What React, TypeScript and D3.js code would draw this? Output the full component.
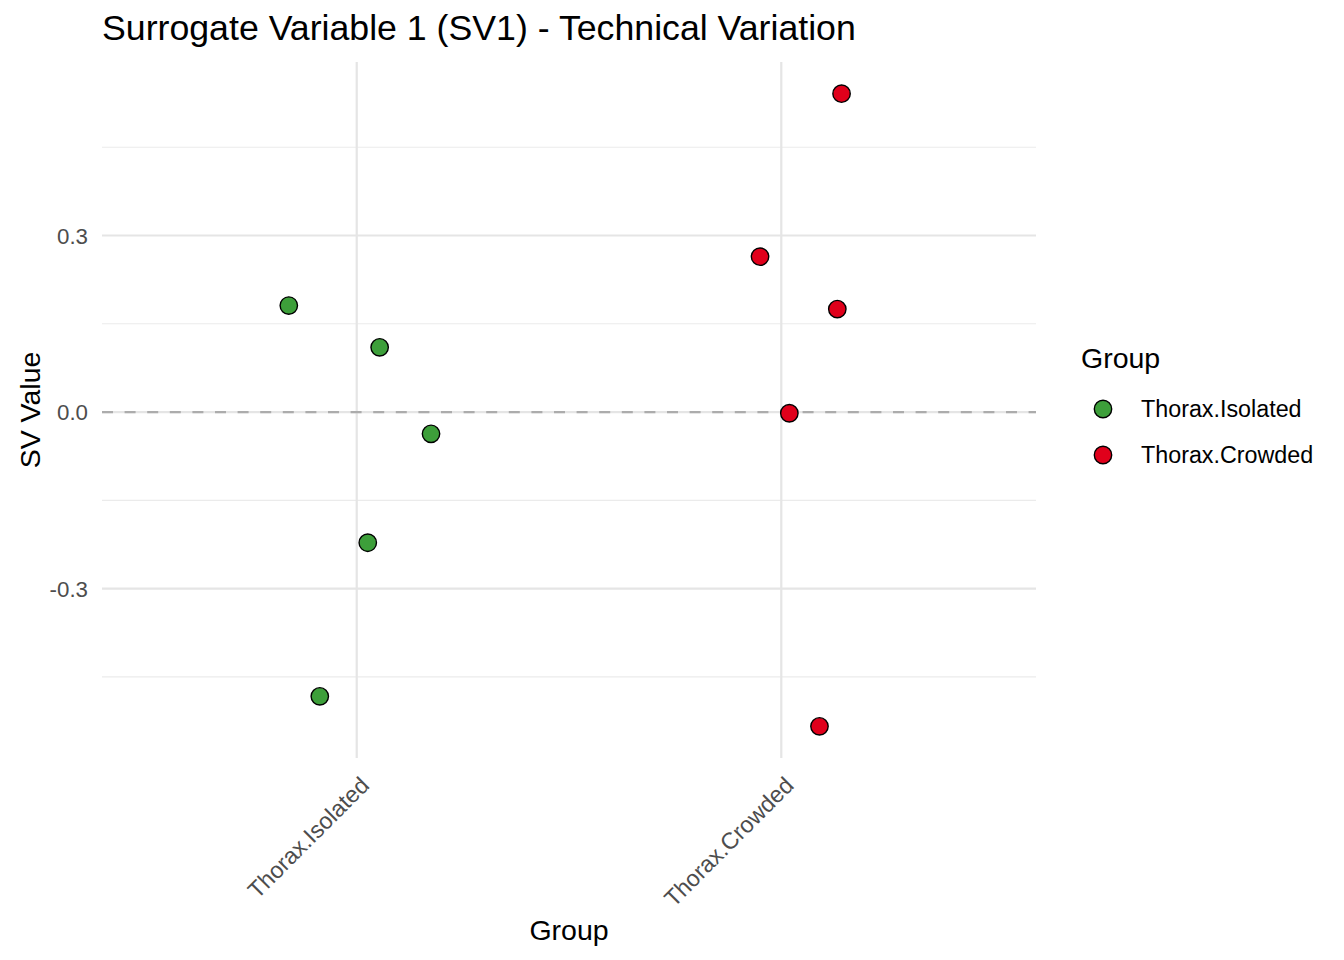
import React, { useRef, useEffect } from 'react';
import * as d3 from 'd3';

const groups = ['Thorax.Isolated', 'Thorax.Crowded'];
const groupColors = ['#3D9F3A', '#E0001B'];

// SV1 values per sample, and the horizontal jitter seen in the picture
const isolatedValues = [0.181, 0.11, -0.037, -0.222, -0.483];
const isolatedJitter = [-0.16, 0.054, 0.175, 0.026, -0.087];
const crowdedValues = [0.541, 0.264, 0.175, -0.002, -0.534];
const crowdedJitter = [0.142, -0.05, 0.132, 0.019, 0.09];

const yTicks = [-0.3, 0, 0.3];
const yMinor = [-0.45, -0.15, 0.15, 0.45];

const W = 1344;
const H = 960;
const FONT = 'Liberation Sans, Arial, sans-serif';

const App = () => {
  const Svg = useRef<SVGSVGElement>(null);

  useEffect(() => {
    const svg = d3.select(Svg.current);
    svg.selectAll('*').remove();

    const left = 102;
    const right = 1036;
    const top = 62;
    const bottom = 758;

    const points = [
      ...isolatedValues.map((v, i) => ({ g: 0, v, j: isolatedJitter[i] })),
      ...crowdedValues.map((v, i) => ({ g: 1, v, j: crowdedJitter[i] })),
    ];

    const [lo, hi] = d3.extent(points, (d) => d.v) as [number, number];
    const pad = (hi - lo) * 0.05;
    const y = d3.scaleLinear().domain([lo - pad, hi + pad]).range([bottom, top]);
    const x = d3.scaleLinear().domain([0.4, 2.6]).range([left, right]);

    // grid
    const grid = svg.append('g');
    grid
      .selectAll('line.minor')
      .data(yMinor)
      .enter()
      .append('line')
      .attr('x1', left)
      .attr('x2', right)
      .attr('y1', (d) => y(d))
      .attr('y2', (d) => y(d))
      .attr('stroke', '#ebebeb')
      .attr('stroke-width', 1.1);
    grid
      .selectAll('line.major')
      .data(yTicks)
      .enter()
      .append('line')
      .attr('x1', left)
      .attr('x2', right)
      .attr('y1', (d) => y(d))
      .attr('y2', (d) => y(d))
      .attr('stroke', '#e5e5e5')
      .attr('stroke-width', 2.2);
    grid
      .selectAll('line.vmajor')
      .data(groups)
      .enter()
      .append('line')
      .attr('x1', (d, i) => x(i + 1))
      .attr('x2', (d, i) => x(i + 1))
      .attr('y1', top)
      .attr('y2', bottom)
      .attr('stroke', '#e5e5e5')
      .attr('stroke-width', 2.2);

    // zero reference line
    svg
      .append('line')
      .attr('x1', left)
      .attr('x2', right)
      .attr('y1', y(0))
      .attr('y2', y(0))
      .attr('stroke', '#acacac')
      .attr('stroke-width', 2.2)
      .attr('stroke-dasharray', '11,11.6');

    // points
    svg
      .selectAll('circle.pt')
      .data(points)
      .enter()
      .append('circle')
      .attr('cx', (d) => x(d.g + 1 + d.j))
      .attr('cy', (d) => y(d.v))
      .attr('r', 8.7)
      .attr('fill', (d) => groupColors[d.g])
      .attr('stroke', '#000')
      .attr('stroke-width', 1.4);

    // y tick labels
    svg
      .selectAll('text.ytick')
      .data(yTicks)
      .enter()
      .append('text')
      .attr('x', left - 14)
      .attr('y', (d) => y(d))
      .attr('dy', '0.36em')
      .attr('text-anchor', 'end')
      .attr('font-family', FONT)
      .attr('font-size', 22.3)
      .attr('fill', '#4d4d4d')
      .text((d) => d3.format('.1f')(d).replace('\u2212', '-'));

    // x tick labels (rotated 45°)
    svg
      .selectAll('text.xtick')
      .data(groups)
      .enter()
      .append('text')
      .attr(
        'transform',
        (d, i) => `translate(${x(i + 1) + 2},${bottom + 17}) rotate(-45)`
      )
      .attr('text-anchor', 'end')
      .attr('dy', '0.72em')
      .attr('font-family', FONT)
      .attr('font-size', 23.2)
      .attr('fill', '#4d4d4d')
      .text((d) => d);

    // axis titles
    svg
      .append('text')
      .attr('x', (left + right) / 2)
      .attr('y', 940)
      .attr('text-anchor', 'middle')
      .attr('font-family', FONT)
      .attr('font-size', 28.5)
      .attr('fill', '#000')
      .text('Group');
    svg
      .append('text')
      .attr('transform', `translate(40,${(top + bottom) / 2}) rotate(-90)`)
      .attr('text-anchor', 'middle')
      .attr('font-family', FONT)
      .attr('font-size', 28.5)
      .attr('fill', '#000')
      .text('SV Value');

    // title
    svg
      .append('text')
      .attr('x', left)
      .attr('y', 40)
      .attr('font-family', FONT)
      .attr('font-size', 35.7)
      .attr('fill', '#000')
      .text('Surrogate Variable 1 (SV1) - Technical Variation');

    // legend
    const legend = svg.append('g');
    legend
      .append('text')
      .attr('x', 1081)
      .attr('y', 368)
      .attr('font-family', FONT)
      .attr('font-size', 28.5)
      .attr('fill', '#000')
      .text('Group');
    const item = legend
      .selectAll('g.item')
      .data(groups)
      .enter()
      .append('g')
      .attr('transform', (d, i) => `translate(0,${409 + i * 46})`);
    item
      .append('circle')
      .attr('cx', 1103)
      .attr('cy', 0)
      .attr('r', 8.7)
      .attr('fill', (d, i) => groupColors[i])
      .attr('stroke', '#000')
      .attr('stroke-width', 1.4);
    item
      .append('text')
      .attr('x', 1141)
      .attr('y', 0)
      .attr('dy', '0.36em')
      .attr('font-family', FONT)
      .attr('font-size', 23.3)
      .attr('fill', '#000')
      .text((d) => d);
  }, []);

  return <svg ref={Svg} width={W} height={H} style={{ display: 'block', margin: -8 }} />;
};

export default App;
